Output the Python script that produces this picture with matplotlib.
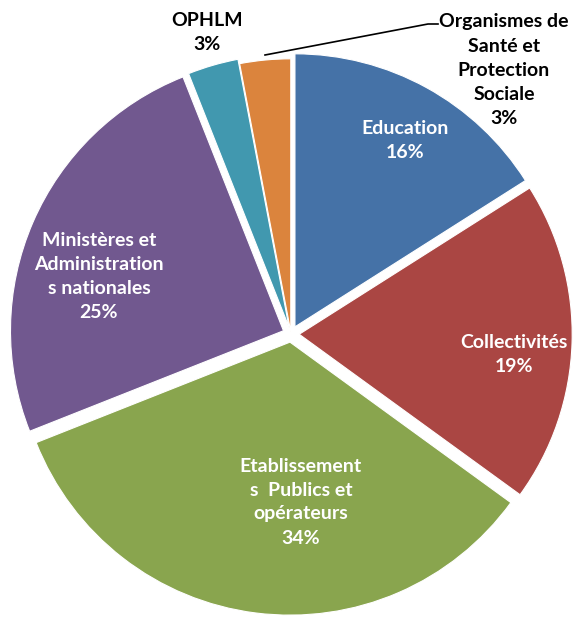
import matplotlib
matplotlib.use("Agg")
import matplotlib.pyplot as plt

categories = ["Education", "Collectivités", "Etablissement\ns  Publics et\nopérateurs",
              "Ministères et\nAdministration\ns nationales", "OPHLM",
              "Organismes de\nSanté et\nProtection\nSociale"]
values = [16, 19, 34, 25, 3, 3]
colors = ["#4572A7", "#AA4643", "#89A54E", "#71588F", "#4198AF", "#DB843D"]
explode = [0.03, 0.03, 0.03, 0.03, 0.025, 0.008]

W, H = 575, 617
fig = plt.figure(figsize=(W / 100, H / 100), dpi=100)
ax = fig.add_axes([0, 0, 1, 1])
R = 273.0
cx, cy = 291.0, 334.0

ax.pie(values, colors=colors, startangle=90, counterclock=False, explode=explode,
       radius=1.0, center=(0, 0), frame=True,
       wedgeprops=dict(linewidth=0.8, edgecolor="white"))
ax.set_aspect("equal")
ax.set_xlim(-cx / R, (W - cx) / R)
ax.set_ylim(-(H - cy) / R, cy / R)
ax.axis("off")

def px(x, y):
    return ((x - cx) / R, (cy - y) / R)

font = dict(family=["Lato", "DejaVu Sans"], fontweight="bold", fontsize=14,
            ha="center", va="center", linespacing=1.5)

label_pos = [(405, 140, "white"), (514, 354, "white"), (301, 502, "white"),
             (99, 276, "white"), (207, 33, "black"), (504, 70, "black")]
for cat, v, (x, y, c) in zip(categories, values, label_pos):
    ax.text(*px(x, y), f"{cat}\n{v}%", color=c, **font)

# leader line for small slice
p0 = px(265, 55)
p1 = px(428, 24)
p2 = px(438, 24)
ax.plot([p0[0], p1[0], p2[0]], [p0[1], p1[1], p2[1]], color="black", lw=1.2)

fig.savefig("out.png", dpi=100)
